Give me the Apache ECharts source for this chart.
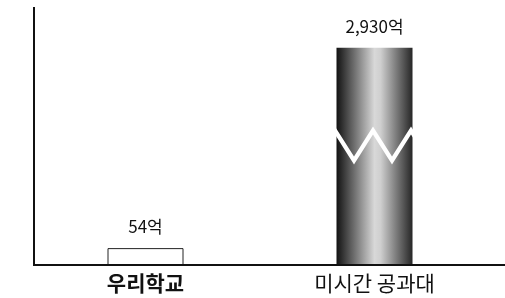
<!DOCTYPE html>
<html>
<head>
<meta charset="utf-8">
<script src="https://cdn.jsdelivr.net/npm/echarts@6.0.0/dist/echarts.min.js"></script>
<style>
    html, body { margin: 0; padding: 0; background: #fff; }
    #chart { width: 505px; height: 298px; }
</style>
</head>
<body>
<div id="chart"></div>
<script>
    // 연구비 비교 (단위: 억)
    var categories = ['우리학교', '미시간 공과대'];
    var values = [54, 2930];
    // 축 생략 구간
    var breakStart = 370;
    var breakEnd = 2630;
    var breakGap = 25;
    var axisMax = 3060;

    var chart = echarts.init(document.getElementById('chart'));

    var barGradient = new echarts.graphic.LinearGradient(0, 0, 1, 0, [
        { offset: 0, color: '#121212' },
        { offset: 0.5, color: '#d8d8d8' },
        { offset: 0.58, color: '#cfcfcf' },
        { offset: 1, color: '#262626' }
    ]);

    chart.setOption({
        animation: false,
        grid: { left: 31, right: 16, top: 7, bottom: 33 },
        xAxis: {
            type: 'category',
            data: categories,
            axisLine: { show: false },
            axisTick: { show: false },
            axisLabel: {
                margin: 8,
                formatter: function (v, i) {
                    return i === 0 ? '{b|' + v + '}' : '{n|' + v + '}';
                },
                rich: {
                    b: { fontFamily: 'Noto Sans CJK KR', fontSize: 21, fontWeight: 'bold', color: '#111' },
                    n: { fontFamily: 'Noto Sans CJK KR', fontSize: 21, color: '#111' }
                }
            }
        },
        yAxis: {
            type: 'value',
            min: 0,
            max: axisMax,
            axisLine: { show: false },
            axisTick: { show: false },
            axisLabel: { show: false },
            splitLine: { show: false },
            breaks: [{ start: breakStart, end: breakEnd, gap: breakGap }],
            breakArea: {
                show: true,
                itemStyle: { color: '#fff', opacity: 1, borderColor: '#fff', borderWidth: 0 },
                zigzagAmplitude: 15,
                zigzagMinSpan: 19,
                zigzagMaxSpan: 19,
                expandOnClick: false
            }
        },
        series: [{
            type: 'bar',
            barWidth: 76,
            data: values.map(function (v, i) {
                return {
                    value: v,
                    itemStyle: i === 0
                        ? { color: '#fff', borderColor: '#222', borderWidth: 1 }
                        : { color: barGradient }
                };
            }),
            label: {
                show: true,
                position: 'top',
                distance: 13,
                fontFamily: 'Noto Sans CJK KR',
                fontSize: 17,
                color: '#111',
                formatter: function (p) {
                    return p.value.toLocaleString('en-US') + '억';
                }
            }
        }]
    });

    // 축선: y축은 끊김 없이, x축은 오른쪽 끝까지
    var y0 = chart.convertToPixel({ yAxisIndex: 0 }, 0);
    var yTop = chart.convertToPixel({ yAxisIndex: 0 }, axisMax);
    chart.setOption({
        graphic: [{
            type: 'line',
            shape: { x1: 34, y1: yTop, x2: 34, y2: y0 },
            style: { stroke: '#111', lineWidth: 2 },
            z: 300
        }, {
            type: 'line',
            shape: { x1: 33, y1: y0, x2: 505, y2: y0 },
            style: { stroke: '#111', lineWidth: 2 },
            z: 300
        }]
    });
</script>
</body>
</html>
